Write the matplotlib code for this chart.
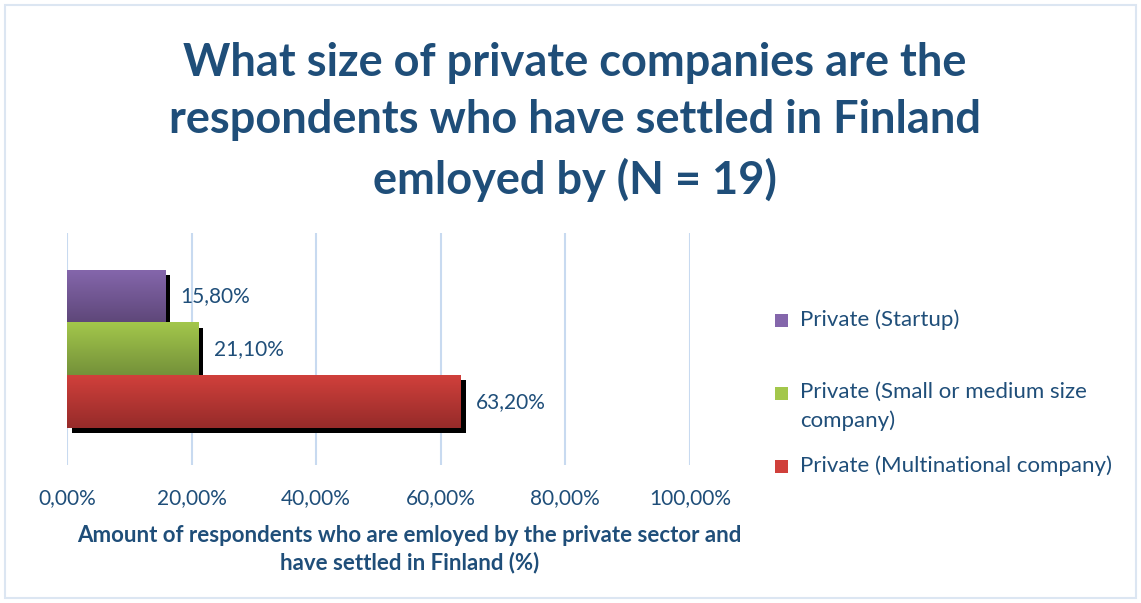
import numpy as np
import matplotlib
matplotlib.use("Agg")
import matplotlib.pyplot as plt
import matplotlib.transforms as mtransforms
from matplotlib.colors import LinearSegmentedColormap
from matplotlib.patches import Rectangle

plt.rcParams["font.family"] = ["Lato", "DejaVu Sans"]

TITLE = "What size of private companies are the\nrespondents who have settled in Finland\nemloyed by (N = 19)"
XLABEL = "Amount of respondents who are emloyed by the private sector and\nhave settled in Finland (%)"

series = ["Private (Startup)", "Private (Small or medium size\ncompany)", "Private (Multinational company)"]
values = [15.8, 21.1, 63.2]
ypos = [1, 0, -1]
ticks = [0, 20, 40, 60, 80, 100]

# top / bottom shade of each bar
shades = [("#8466ab", "#5e4779"), ("#a3c74b", "#74913a"), ("#d0403b", "#962b2a")]

TXT = "#1f4e79"
GRID = "#c8daf0"

fig = plt.figure(figsize=(11.41, 6.03), dpi=100)
ax = fig.add_axes([0.0587, 0.2289, 0.546, 0.3847])

h = 1.0
shadow = mtransforms.offset_copy(ax.transData, fig=fig, x=5, y=-5, units="dots")
for v, y, (c1, c2) in zip(values, ypos, shades):
    ax.add_patch(Rectangle((0, y - h / 2), v, h, facecolor="black", edgecolor="none",
                           transform=shadow, zorder=2))
    cmap = LinearSegmentedColormap.from_list("g", [c2, c1])
    grad = np.linspace(0, 1, 64).reshape(-1, 1)
    ax.imshow(grad, cmap=cmap, origin="lower", aspect="auto",
              extent=[0, v, y - h / 2, y + h / 2], zorder=3, interpolation="bilinear")
    ax.annotate(f"{v:.2f}%".replace(".", ","), xy=(v, y), xytext=(11, 0),
                textcoords="offset points", va="center", ha="left",
                fontsize=15, color=TXT, zorder=4)

ax.set_xlim(0, 100)
ax.set_ylim(-2.2, 2.2)
ax.set_xticks(ticks)
ax.set_xticklabels([f"{t:.2f}%".replace(".", ",") for t in ticks], fontsize=15, color=TXT)
ax.set_yticks([])
ax.grid(axis="x", color=GRID, lw=1.5, zorder=0)
ax.set_axisbelow(True)
ax.tick_params(axis="x", length=0, pad=17)
for s in ax.spines.values():
    s.set_visible(False)

ax.set_xlabel(XLABEL, fontsize=16, fontweight="bold", color=TXT, labelpad=12,
              linespacing=1.3, x=0.55, ha="center")

fig.text(0.504, 1 - 122 / 603, TITLE, ha="center", va="center", fontsize=32.5,
         fontweight="bold", color=TXT, linespacing=1.45)

# legend drawn by hand to keep the spacing of the original layout
leg_y = [320, 393, 466]
for lab, y, (c1, c2) in zip(series, leg_y, shades):
    fig.add_artist(Rectangle((775 / 1141, 1 - (y + 7) / 603), 13 / 1141, 13 / 603,
                             transform=fig.transFigure, facecolor=c1, edgecolor="none"))
    fig.text(800 / 1141, 1 - (y - 11) / 603, lab, ha="left", va="top",
             fontsize=16, color=TXT, linespacing=1.5)

fig.add_artist(Rectangle((0.004, 0.008), 0.992, 0.984, transform=fig.transFigure,
                         facecolor="none", edgecolor="#dce6f2", lw=1.5))

fig.savefig("out.png", dpi=100)
